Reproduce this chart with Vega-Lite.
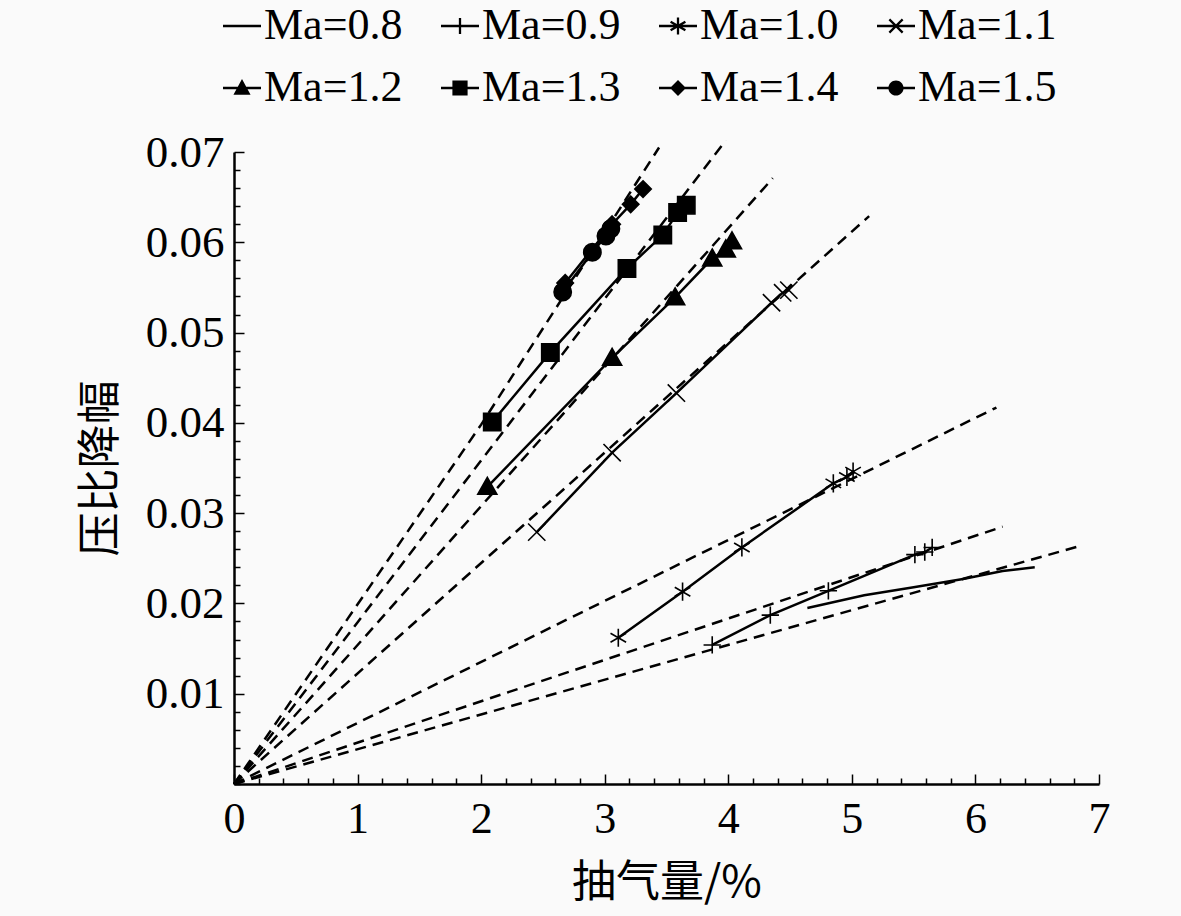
{
  "$schema": "https://vega.github.io/schema/vega-lite/v6.json",
  "width": 865,
  "height": 632,
  "autosize": "none",
  "padding": {"left": 234, "top": 152, "right": 82, "bottom": 132},
  "background": "#fafafa",
  "config": {"view": {"stroke": null}},
  "data": {
    "values": [
      {"kind": "data", "Ma": "0.8", "x": 4.64, "y": 0.0195},
      {"kind": "data", "Ma": "0.8", "x": 5.10, "y": 0.0209},
      {"kind": "data", "Ma": "0.8", "x": 5.50, "y": 0.0218},
      {"kind": "data", "Ma": "0.8", "x": 5.90, "y": 0.0227},
      {"kind": "data", "Ma": "0.8", "x": 6.22, "y": 0.0236},
      {"kind": "data", "Ma": "0.8", "x": 6.48, "y": 0.0240},
      {"kind": "data", "Ma": "0.9", "x": 3.87, "y": 0.0154},
      {"kind": "data", "Ma": "0.9", "x": 4.34, "y": 0.0187},
      {"kind": "data", "Ma": "0.9", "x": 4.81, "y": 0.0214},
      {"kind": "data", "Ma": "0.9", "x": 5.51, "y": 0.0254},
      {"kind": "data", "Ma": "0.9", "x": 5.59, "y": 0.0257},
      {"kind": "data", "Ma": "0.9", "x": 5.65, "y": 0.0262},
      {"kind": "data", "Ma": "1.0", "x": 3.11, "y": 0.0162},
      {"kind": "data", "Ma": "1.0", "x": 3.63, "y": 0.0213},
      {"kind": "data", "Ma": "1.0", "x": 4.11, "y": 0.0262},
      {"kind": "data", "Ma": "1.0", "x": 4.85, "y": 0.0333},
      {"kind": "data", "Ma": "1.0", "x": 4.96, "y": 0.0340},
      {"kind": "data", "Ma": "1.0", "x": 5.01, "y": 0.0346},
      {"kind": "data", "Ma": "1.1", "x": 2.45, "y": 0.0279},
      {"kind": "data", "Ma": "1.1", "x": 3.06, "y": 0.0367},
      {"kind": "data", "Ma": "1.1", "x": 3.58, "y": 0.0433},
      {"kind": "data", "Ma": "1.1", "x": 4.35, "y": 0.0533},
      {"kind": "data", "Ma": "1.1", "x": 4.44, "y": 0.0544},
      {"kind": "data", "Ma": "1.1", "x": 4.49, "y": 0.0547},
      {"kind": "data", "Ma": "1.2", "x": 2.05, "y": 0.0329},
      {"kind": "data", "Ma": "1.2", "x": 3.06, "y": 0.0472},
      {"kind": "data", "Ma": "1.2", "x": 3.57, "y": 0.0539},
      {"kind": "data", "Ma": "1.2", "x": 3.87, "y": 0.0582},
      {"kind": "data", "Ma": "1.2", "x": 3.98, "y": 0.0592},
      {"kind": "data", "Ma": "1.2", "x": 4.03, "y": 0.0601},
      {"kind": "data", "Ma": "1.3", "x": 2.09, "y": 0.0401},
      {"kind": "data", "Ma": "1.3", "x": 2.56, "y": 0.0478},
      {"kind": "data", "Ma": "1.3", "x": 3.18, "y": 0.0571},
      {"kind": "data", "Ma": "1.3", "x": 3.47, "y": 0.0608},
      {"kind": "data", "Ma": "1.3", "x": 3.59, "y": 0.0633},
      {"kind": "data", "Ma": "1.3", "x": 3.66, "y": 0.0641},
      {"kind": "data", "Ma": "1.4", "x": 2.68, "y": 0.0555},
      {"kind": "data", "Ma": "1.4", "x": 3.06, "y": 0.0620},
      {"kind": "data", "Ma": "1.4", "x": 3.21, "y": 0.0642},
      {"kind": "data", "Ma": "1.4", "x": 3.31, "y": 0.0659},
      {"kind": "data", "Ma": "1.5", "x": 2.66, "y": 0.0545},
      {"kind": "data", "Ma": "1.5", "x": 2.90, "y": 0.0589},
      {"kind": "data", "Ma": "1.5", "x": 3.01, "y": 0.0607},
      {"kind": "data", "Ma": "1.5", "x": 3.05, "y": 0.0615},
      {"kind": "fit", "Ma": "1.5", "x": 0, "y": 0},
      {"kind": "fit", "Ma": "1.5", "x": 2.0, "y": 0.0398},
      {"kind": "fit", "Ma": "1.5", "x": 3.44, "y": 0.0705},
      {"kind": "fit", "Ma": "1.3", "x": 0, "y": 0},
      {"kind": "fit", "Ma": "1.3", "x": 3.98, "y": 0.0713},
      {"kind": "fit", "Ma": "1.2", "x": 0, "y": 0},
      {"kind": "fit", "Ma": "1.2", "x": 4.36, "y": 0.0671},
      {"kind": "fit", "Ma": "1.1", "x": 0, "y": 0},
      {"kind": "fit", "Ma": "1.1", "x": 5.14, "y": 0.0629},
      {"kind": "fit", "Ma": "1.0", "x": 0, "y": 0},
      {"kind": "fit", "Ma": "1.0", "x": 6.17, "y": 0.0417},
      {"kind": "fit", "Ma": "0.9", "x": 0, "y": 0},
      {"kind": "fit", "Ma": "0.9", "x": 6.22, "y": 0.0285},
      {"kind": "fit", "Ma": "0.8", "x": 0, "y": 0},
      {"kind": "fit", "Ma": "0.8", "x": 6.83, "y": 0.0263}
    ]
  },
  "layer": [
    {
      "transform": [{"filter": "datum.kind == 'fit'"}],
      "mark": {"type": "line", "color": "black", "strokeWidth": 2.5, "strokeDash": [11, 7]},
      "encoding": {
        "x": {
          "field": "x",
          "type": "quantitative",
          "scale": {"domain": [0, 7], "nice": false},
          "axis": {
            "title": "抽气量/%",
            "titleFont": "Noto Sans CJK SC",
            "titleFontSize": 44,
            "titleFontWeight": "normal",
            "titleColor": "black",
            "titlePadding": 16,
            "values": [0, 0.2, 0.4, 0.6, 0.8, 1, 1.2, 1.4, 1.6, 1.8, 2, 2.2, 2.4, 2.6, 2.8, 3, 3.2, 3.4, 3.6, 3.8, 4, 4.2, 4.4, 4.6, 4.8, 5, 5.2, 5.4, 5.6, 5.8, 6, 6.2, 6.4, 6.6, 6.8, 7],
            "tickCount": 100,
            "labelExpr": "abs(datum.value - round(datum.value)) < 0.001 ? format(datum.value, 'd') : ''",
            "labelFont": "Liberation Serif",
            "labelFontSize": 44,
            "labelColor": "black",
            "labelPadding": 23,
            "labelFlush": false,
            "labelOverlap": false,
            "grid": false,
            "domainColor": "black",
            "domainWidth": 2.5,
            "tickColor": "black",
            "tickWidth": 1.5,
            "tickSize": {"condition": {"test": "abs(datum.value - round(datum.value)) < 0.001", "value": -10}, "value": -6}
          }
        },
        "y": {
          "field": "y",
          "type": "quantitative",
          "scale": {"domain": [0, 0.07], "nice": false},
          "axis": {
            "title": "压比降幅",
            "titleFont": "Noto Sans CJK SC",
            "titleFontSize": 44,
            "titleFontWeight": "normal",
            "titleColor": "black",
            "titlePadding": 22,
            "values": [0, 0.002, 0.004, 0.006, 0.008, 0.01, 0.012, 0.014, 0.016, 0.018, 0.02, 0.022, 0.024, 0.026, 0.028, 0.03, 0.032, 0.034, 0.036, 0.038, 0.04, 0.042, 0.044, 0.046, 0.048, 0.05, 0.052, 0.054, 0.056, 0.058, 0.06, 0.062, 0.064, 0.066, 0.068, 0.07],
            "tickCount": 100,
            "labelExpr": "datum.value > 0.001 && abs(datum.value * 100 - round(datum.value * 100)) < 0.001 ? format(datum.value, '.2f') : ''",
            "labelFont": "Liberation Serif",
            "labelFontSize": 45,
            "labelColor": "black",
            "labelPadding": 20,
            "labelFlush": false,
            "labelOverlap": false,
            "grid": false,
            "domainColor": "black",
            "domainWidth": 2.5,
            "tickColor": "black",
            "tickWidth": 1.5,
            "tickSize": {"condition": {"test": "datum.value > 0.001 && abs(datum.value * 100 - round(datum.value * 100)) < 0.001", "value": -10}, "value": -6}
          }
        },
        "detail": {"field": "Ma"}
      }
    },
    {
      "transform": [{"filter": "datum.kind == 'data'"}],
      "mark": {"type": "line", "color": "black", "strokeWidth": 2.5},
      "encoding": {
        "x": {"field": "x", "type": "quantitative"},
        "y": {"field": "y", "type": "quantitative"},
        "detail": {"field": "Ma"}
      }
    },
    {
      "transform": [{"filter": "datum.kind == 'data' && datum.Ma != '0.8'"}],
      "mark": {"type": "point", "filled": true, "color": "black", "stroke": "black", "strokeWidth": 1.6, "size": 300, "opacity": 1},
      "encoding": {
        "x": {"field": "x", "type": "quantitative"},
        "y": {"field": "y", "type": "quantitative"},
        "shape": {
          "field": "Ma",
          "type": "nominal",
          "scale": {
            "domain": ["0.9", "1.0", "1.1", "1.2", "1.3", "1.4", "1.5"],
            "range": [
              "M-1,0H1M0,-1V1",
              "M0,-1.05V1.05M-0.9,-0.52L0.9,0.52M-0.9,0.52L0.9,-0.52",
              "M-1,-1L1,1M-1,1L1,-1",
              "M0,-1.1L1.1,0.85H-1.1Z",
              "M-1,-1H1V1H-1Z",
              "M0,-0.95L0.95,0L0,0.95L-0.95,0Z",
              "M-1,0A1,1,0,1,1,1,0A1,1,0,1,1,-1,0Z"
            ]
          },
          "legend": null
        }
      }
    },
    {
      "transform": [{"filter": "datum.kind == 'data'"}],
      "mark": {"type": "point", "filled": true, "color": "black", "opacity": 0},
      "encoding": {
        "x": {"field": "x", "type": "quantitative"},
        "y": {"field": "y", "type": "quantitative"},
        "shape": {
          "field": "Ma",
          "type": "nominal",
          "scale": {
            "domain": ["0.8", "0.9", "1.0", "1.1", "1.2", "1.3", "1.4", "1.5"],
            "range": [
              "M-1,-0.06H1V0.06H-1Z",
              "M-1,-0.06H1V0.06H-1ZM-0.06,-0.42H0.06V0.42H-0.06Z",
              "M-1,-0.06H1V0.06H-1ZM-0.06,-0.45H0.06V0.45H-0.06ZM-0.36,-0.277L0.42,0.173L0.36,0.277L-0.42,-0.173ZM0.42,-0.173L-0.36,0.277L-0.42,0.173L0.36,-0.277Z",
              "M-1,-0.06H1V0.06H-1ZM-0.308,-0.392L0.392,0.308L0.308,0.392L-0.392,-0.308ZM0.392,-0.308L-0.308,0.392L-0.392,0.308L0.308,-0.392Z",
              "M-1,-0.06H1V0.06H-1ZM0,-0.48L0.45,0.36H-0.45Z",
              "M-1,-0.06H1V0.06H-1ZM-0.4,-0.4H0.4V0.4H-0.4Z",
              "M-1,-0.06H1V0.06H-1ZM0,-0.42L0.42,0L0,0.42L-0.42,0Z",
              "M-1,-0.06H1V0.06H-1ZM-0.4,0A0.4,0.4,0,1,1,0.4,0A0.4,0.4,0,1,1,-0.4,0Z"
            ]
          },
          "legend": {
            "orient": "none",
            "legendX": -14,
            "legendY": -148,
            "direction": "horizontal",
            "columns": 4,
            "title": null,
            "padding": 0,
            "symbolSize": 1444,
            "symbolOpacity": 1,
            "symbolFillColor": "black",
            "labelExpr": "'Ma=' + datum.label",
            "labelFont": "Liberation Serif",
            "labelFontSize": 44,
            "labelColor": "black",
            "labelOffset": 0,
            "labelLimit": 400,
            "columnPadding": 35,
            "rowPadding": 18
          }
        }
      }
    }
  ],
  "resolve": {"scale": {"shape": "independent"}, "legend": {"shape": "independent"}}
}
